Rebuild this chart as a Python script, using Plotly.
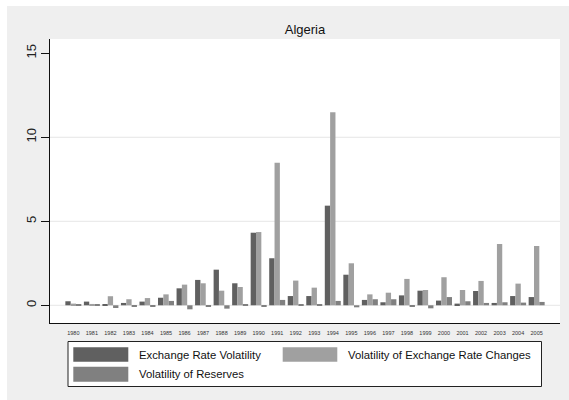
import plotly.graph_objects as go

# Annual volatility measures for Algeria, 1980-2005
years = [str(y) for y in range(1980, 2006)]

exchange_rate_vol = [0.24, 0.22, 0.06, 0.14, 0.22, 0.45, 1.01, 1.51, 2.12, 1.31,
                     4.32, 2.80, 0.55, 0.55, 5.93, 1.82, 0.32, 0.18, 0.59, 0.87,
                     0.28, 0.10, 0.85, 0.14, 0.55, 0.49]
exchange_rate_chg_vol = [0.10, 0.08, 0.54, 0.36, 0.43, 0.65, 1.23, 1.31, 0.87, 1.09,
                         4.36, 8.49, 1.47, 1.05, 11.49, 2.50, 0.65, 0.75, 1.57, 0.91,
                         1.67, 0.91, 1.45, 3.65, 1.29, 3.53]
reserves_vol = [0.02, 0.06, -0.16, -0.06, -0.08, 0.26, -0.24, -0.05, -0.20, 0.03,
                -0.08, 0.32, 0.05, 0.05, 0.26, -0.12, 0.36, 0.36, -0.10, -0.18,
                0.49, 0.24, 0.14, 0.18, 0.16, 0.20]

series_names = ["Exchange Rate Volatility",
                "Volatility of Exchange Rate Changes",
                "Volatility of Reserves"]
series_values = [exchange_rate_vol, exchange_rate_chg_vol, reserves_vol]
series_colors = ["#606060", "#a0a0a0", "#808080"]

y_ticks = [0, 5, 10, 15]
y_grid = [0, 5, 10]

W, H = 569, 400
ML, MR, MT, MB = 50, 9, 39, 77
PW, PH = W - ML - MR, H - MT - MB


def px_x(x):
    return (x - ML) / PW


def px_y(y):
    return (H - MB - y) / PH


fig = go.Figure()
for name, vals, col in zip(series_names, series_values, series_colors):
    fig.add_trace(go.Bar(x=years, y=vals, name=name, marker_color=col,
                         marker_line_width=0, showlegend=False))

shapes = []
# white strip along the top and left edges of the page
shapes.append(dict(type="rect", xref="paper", yref="paper", layer="below",
                   x0=px_x(0), x1=px_x(W), y0=px_y(6), y1=px_y(0),
                   fillcolor="white", line_width=0))
shapes.append(dict(type="rect", xref="paper", yref="paper", layer="below",
                   x0=px_x(0), x1=px_x(7), y0=px_y(H), y1=px_y(0),
                   fillcolor="white", line_width=0))
# horizontal grid lines
for g in y_grid:
    shapes.append(dict(type="line", xref="paper", yref="y", layer="below",
                       x0=0, x1=1, y0=g, y1=g,
                       line=dict(color="#e6e6e6", width=1)))

# legend box drawn by hand
shapes.append(dict(type="rect", xref="paper", yref="paper",
                   x0=px_x(68), x1=px_x(541.5), y0=px_y(386.5), y1=px_y(341.5),
                   fillcolor="white", line=dict(color="#222222", width=1)))
legend_slots = [((73.3, 128.3), (347.3, 361.7), 136.5),
                ((282.7, 337.3), (347.3, 361.7), 346),
                ((73.3, 128.3), (366.7, 381.7), 136.5)]
annotations = []
for (xs, ys, tx), name, col in zip(legend_slots, series_names, series_colors):
    shapes.append(dict(type="rect", xref="paper", yref="paper",
                       x0=px_x(xs[0]), x1=px_x(xs[1]),
                       y0=px_y(ys[1]), y1=px_y(ys[0]),
                       fillcolor=col, line_width=0))
    annotations.append(dict(xref="paper", yref="paper", x=px_x(tx),
                            y=px_y((ys[0] + ys[1]) / 2), text=name,
                            showarrow=False, xanchor="left", yanchor="middle",
                            font=dict(size=11.3, color="#111111")))

fig.update_layout(
    width=W, height=H,
    margin=dict(l=ML, r=MR, t=MT, b=MB),
    paper_bgcolor="#efefef",
    plot_bgcolor="white",
    font=dict(family="Liberation Sans, Arial, sans-serif", color="#222222"),
    title=dict(text="Algeria", x=px_x(305), xref="paper", xanchor="center",
               y=1 - 29.5 / H, yanchor="middle",
               font=dict(size=13, color="#111111")),
    barmode="group", bargap=0.137, bargroupgap=0,
    shapes=shapes, annotations=annotations,
)
fig.update_xaxes(type="category", range=[-1.26, 26.26], showgrid=False,
                 showline=True, linecolor="#111111", linewidth=1.3,
                 ticks="", tickfont=dict(size=5.5, color="#333333"),
                 ticklabelstandoff=4, zeroline=False)
fig.update_yaxes(range=[-1.054, 15.85], tickvals=y_ticks,
                 ticktext=[str(t) for t in y_ticks], showgrid=False,
                 zeroline=False, showline=True, linecolor="#111111",
                 linewidth=1.3, ticks="outside", ticklen=8,
                 tickcolor="#111111", tickangle=-90,
                 tickfont=dict(size=13, color="#222222"))

fig.write_html("out.html")
